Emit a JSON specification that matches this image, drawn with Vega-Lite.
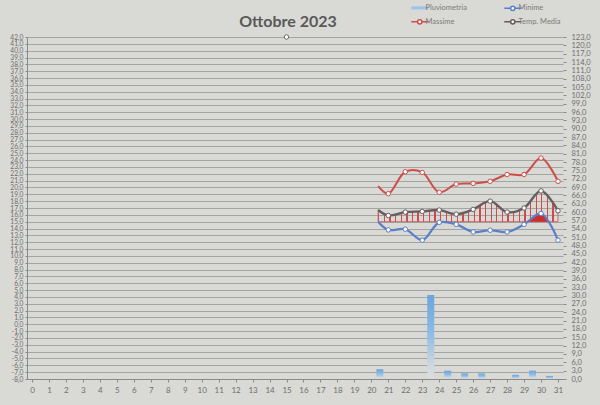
{
  "$schema": "https://vega.github.io/schema/vega-lite/v6.json",
  "width": 536,
  "height": 342,
  "autosize": {"type": "none"},
  "padding": {"left": 27, "top": 37, "right": 37, "bottom": 26},
  "background": "#d9d9d5",
  "config": {"view": {"stroke": null}, "font": "Lato"},
  "title": {"text": "Ottobre 2023", "fontSize": 16, "fontWeight": "bold", "color": "#595959", "font": "Lato", "offset": 8, "anchor": "middle", "dx": -7, "dy": 34},
  "datasets": {
    "rain": [
      {"day": 20.5, "rain": 3.5},
      {"day": 23.5, "rain": 30.2},
      {"day": 24.5, "rain": 3.0},
      {"day": 25.5, "rain": 2.0},
      {"day": 26.5, "rain": 2.0},
      {"day": 28.5, "rain": 1.5},
      {"day": 29.5, "rain": 3.0},
      {"day": 30.5, "rain": 1.1}
    ],
    "temp": [
      {"day": 20.4, "serie": "Massime", "value": 20.2},
      {"day": 21, "serie": "Massime", "value": 19.1},
      {"day": 22, "serie": "Massime", "value": 22.3},
      {"day": 23, "serie": "Massime", "value": 22.2},
      {"day": 24, "serie": "Massime", "value": 19.3},
      {"day": 25, "serie": "Massime", "value": 20.5},
      {"day": 26, "serie": "Massime", "value": 20.6},
      {"day": 27, "serie": "Massime", "value": 20.9},
      {"day": 28, "serie": "Massime", "value": 21.9},
      {"day": 29, "serie": "Massime", "value": 21.9},
      {"day": 30, "serie": "Massime", "value": 24.3},
      {"day": 31, "serie": "Massime", "value": 20.9},
      {"day": 20.4, "serie": "Minime", "value": 15.0},
      {"day": 21, "serie": "Minime", "value": 13.8},
      {"day": 22, "serie": "Minime", "value": 13.9},
      {"day": 23, "serie": "Minime", "value": 12.3},
      {"day": 24, "serie": "Minime", "value": 14.9},
      {"day": 25, "serie": "Minime", "value": 14.6},
      {"day": 26, "serie": "Minime", "value": 13.5},
      {"day": 27, "serie": "Minime", "value": 13.75},
      {"day": 28, "serie": "Minime", "value": 13.5},
      {"day": 29, "serie": "Minime", "value": 14.6},
      {"day": 30, "serie": "Minime", "value": 16.2},
      {"day": 31, "serie": "Minime", "value": 12.3},
      {"day": 20.4, "serie": "Temp. Media", "value": 16.7},
      {"day": 21, "serie": "Temp. Media", "value": 15.9},
      {"day": 22, "serie": "Temp. Media", "value": 16.4},
      {"day": 23, "serie": "Temp. Media", "value": 16.5},
      {"day": 24, "serie": "Temp. Media", "value": 16.7},
      {"day": 25, "serie": "Temp. Media", "value": 16.1},
      {"day": 26, "serie": "Temp. Media", "value": 16.8},
      {"day": 27, "serie": "Temp. Media", "value": 18.0},
      {"day": 28, "serie": "Temp. Media", "value": 16.4},
      {"day": 29, "serie": "Temp. Media", "value": 17.0},
      {"day": 30, "serie": "Temp. Media", "value": 19.5},
      {"day": 31, "serie": "Temp. Media", "value": 16.6}
    ],
    "extra": [{"day": 15, "value": 42}],
    "patch": [
      {"day": 29.3, "value": 15.0},
      {"day": 30, "value": 16.1},
      {"day": 30.45, "value": 15.0}
    ]
  },
  "encoding": {
    "x": {
      "field": "day",
      "type": "quantitative",
      "scale": {"domain": [0, 31], "nice": false, "zero": false},
      "axis": {
        "title": null,
        "values": [0,1,2,3,4,5,6,7,8,9,10,11,12,13,14,15,16,17,18,19,20,21,22,23,24,25,26,27,28,29,30,31],
        "labelFontSize": 8,
        "labelColor": "#6e6e6e",
        "labelFlush": false,
        "labelOverlap": false,
        "tickColor": "#8a8a8a",
        "tickSize": 3,
        "domainColor": "#8a8a8a",
        "grid": false,
        "labelPadding": 4
      }
    }
  },
  "layer": [
    {
      "data": {"name": "rain"},
      "mark": {
        "type": "bar",
        "width": 7,
        "fill": {
          "gradient": "linear", "x1": 0, "y1": 0, "x2": 0, "y2": 1,
          "stops": [
            {"offset": 0, "color": "#6aa5dc"},
            {"offset": 0.45, "color": "#8cbbe6"},
            {"offset": 0.85, "color": "#d0d8e0"},
            {"offset": 1, "color": "#dcdcdc"}
          ]
        }
      },
      "encoding": {
        "y": {
          "field": "rain",
          "type": "quantitative",
          "scale": {"domain": [0, 123], "nice": false},
          "axis": {
            "orient": "right",
            "title": null,
            "values": [0,3,6,9,12,15,18,21,24,27,30,33,36,39,42,45,48,51,54,57,60,63,66,69,72,75,78,81,84,87,90,93,96,99,102,105,108,111,114,117,120,123],
            "labelExpr": "datum.value + ',0'",
            "labelFontSize": 7.5,
            "labelColor": "#6e6e6e",
            "labelFlush": false,
            "labelOverlap": false,
            "grid": false,
            "tickSize": 3,
            "tickColor": "#8a8a8a",
            "domain": false,
            "labelPadding": 5
          }
        }
      }
    },
    {
      "encoding": {
        "y": {
          "field": "value",
          "type": "quantitative",
          "scale": {"domain": [-8, 42], "nice": false, "zero": false},
          "axis": {
            "orient": "left",
            "title": null,
            "values": [-8,-7,-6,-5,-4,-3,-2,-1,0,1,2,3,4,5,6,7,8,9,10,11,12,13,14,15,16,17,18,19,20,21,22,23,24,25,26,27,28,29,30,31,32,33,34,35,36,37,38,39,40,41,42],
            "labelExpr": "datum.value + ',0'",
            "labelFontSize": 6.7,
            "labelColor": "#6e6e6e",
            "labelFlush": false,
            "labelOverlap": false,
            "grid": true,
            "gridColor": "#979797",
            "gridWidth": 0.8,
            "tickSize": 2,
            "tickColor": "#8a8a8a",
            "domainColor": "#8a8a8a",
            "labelPadding": 2
          }
        }
      },
      "layer": [
        {
          "data": {"name": "temp"},
          "transform": [{"filter": "datum.serie === 'Temp. Media'"}],
          "mark": {
            "type": "area",
            "interpolate": "catmull-rom",
            "stroke": "#c85050",
            "strokeWidth": 0.8,
            "fill": {
              "gradient": "linear", "x1": 0, "y1": 0, "x2": 1, "y2": 0,
              "stops": [
                {"offset": 0, "color": "#d04a4a"}, {"offset": 0.007, "color": "#d04a4a"}, {"offset": 0.007, "color": "rgba(208,74,74,0)"}, {"offset": 0.03125, "color": "rgba(208,74,74,0)"},
                {"offset": 0.03125, "color": "#d04a4a"}, {"offset": 0.03825, "color": "#d04a4a"}, {"offset": 0.03825, "color": "rgba(208,74,74,0)"}, {"offset": 0.0625, "color": "rgba(208,74,74,0)"},
                {"offset": 0.0625, "color": "#d04a4a"}, {"offset": 0.0695, "color": "#d04a4a"}, {"offset": 0.0695, "color": "rgba(208,74,74,0)"}, {"offset": 0.09375, "color": "rgba(208,74,74,0)"},
                {"offset": 0.09375, "color": "#d04a4a"}, {"offset": 0.10075, "color": "#d04a4a"}, {"offset": 0.10075, "color": "rgba(208,74,74,0)"}, {"offset": 0.125, "color": "rgba(208,74,74,0)"},
                {"offset": 0.125, "color": "#d04a4a"}, {"offset": 0.132, "color": "#d04a4a"}, {"offset": 0.132, "color": "rgba(208,74,74,0)"}, {"offset": 0.15625, "color": "rgba(208,74,74,0)"},
                {"offset": 0.15625, "color": "#d04a4a"}, {"offset": 0.16325, "color": "#d04a4a"}, {"offset": 0.16325, "color": "rgba(208,74,74,0)"}, {"offset": 0.1875, "color": "rgba(208,74,74,0)"},
                {"offset": 0.1875, "color": "#d04a4a"}, {"offset": 0.1945, "color": "#d04a4a"}, {"offset": 0.1945, "color": "rgba(208,74,74,0)"}, {"offset": 0.21875, "color": "rgba(208,74,74,0)"},
                {"offset": 0.21875, "color": "#d04a4a"}, {"offset": 0.22575, "color": "#d04a4a"}, {"offset": 0.22575, "color": "rgba(208,74,74,0)"}, {"offset": 0.25, "color": "rgba(208,74,74,0)"},
                {"offset": 0.25, "color": "#d04a4a"}, {"offset": 0.257, "color": "#d04a4a"}, {"offset": 0.257, "color": "rgba(208,74,74,0)"}, {"offset": 0.28125, "color": "rgba(208,74,74,0)"},
                {"offset": 0.28125, "color": "#d04a4a"}, {"offset": 0.28825, "color": "#d04a4a"}, {"offset": 0.28825, "color": "rgba(208,74,74,0)"}, {"offset": 0.3125, "color": "rgba(208,74,74,0)"},
                {"offset": 0.3125, "color": "#d04a4a"}, {"offset": 0.3195, "color": "#d04a4a"}, {"offset": 0.3195, "color": "rgba(208,74,74,0)"}, {"offset": 0.34375, "color": "rgba(208,74,74,0)"},
                {"offset": 0.34375, "color": "#d04a4a"}, {"offset": 0.35075, "color": "#d04a4a"}, {"offset": 0.35075, "color": "rgba(208,74,74,0)"}, {"offset": 0.375, "color": "rgba(208,74,74,0)"},
                {"offset": 0.375, "color": "#d04a4a"}, {"offset": 0.382, "color": "#d04a4a"}, {"offset": 0.382, "color": "rgba(208,74,74,0)"}, {"offset": 0.40625, "color": "rgba(208,74,74,0)"},
                {"offset": 0.40625, "color": "#d04a4a"}, {"offset": 0.41325, "color": "#d04a4a"}, {"offset": 0.41325, "color": "rgba(208,74,74,0)"}, {"offset": 0.4375, "color": "rgba(208,74,74,0)"},
                {"offset": 0.4375, "color": "#d04a4a"}, {"offset": 0.4445, "color": "#d04a4a"}, {"offset": 0.4445, "color": "rgba(208,74,74,0)"}, {"offset": 0.46875, "color": "rgba(208,74,74,0)"},
                {"offset": 0.46875, "color": "#d04a4a"}, {"offset": 0.47575, "color": "#d04a4a"}, {"offset": 0.47575, "color": "rgba(208,74,74,0)"}, {"offset": 0.5, "color": "rgba(208,74,74,0)"},
                {"offset": 0.5, "color": "#d04a4a"}, {"offset": 0.507, "color": "#d04a4a"}, {"offset": 0.507, "color": "rgba(208,74,74,0)"}, {"offset": 0.53125, "color": "rgba(208,74,74,0)"},
                {"offset": 0.53125, "color": "#d04a4a"}, {"offset": 0.53825, "color": "#d04a4a"}, {"offset": 0.53825, "color": "rgba(208,74,74,0)"}, {"offset": 0.5625, "color": "rgba(208,74,74,0)"},
                {"offset": 0.5625, "color": "#d04a4a"}, {"offset": 0.5695, "color": "#d04a4a"}, {"offset": 0.5695, "color": "rgba(208,74,74,0)"}, {"offset": 0.59375, "color": "rgba(208,74,74,0)"},
                {"offset": 0.59375, "color": "#d04a4a"}, {"offset": 0.60075, "color": "#d04a4a"}, {"offset": 0.60075, "color": "rgba(208,74,74,0)"}, {"offset": 0.625, "color": "rgba(208,74,74,0)"},
                {"offset": 0.625, "color": "#d04a4a"}, {"offset": 0.632, "color": "#d04a4a"}, {"offset": 0.632, "color": "rgba(208,74,74,0)"}, {"offset": 0.65625, "color": "rgba(208,74,74,0)"},
                {"offset": 0.65625, "color": "#d04a4a"}, {"offset": 0.66325, "color": "#d04a4a"}, {"offset": 0.66325, "color": "rgba(208,74,74,0)"}, {"offset": 0.6875, "color": "rgba(208,74,74,0)"},
                {"offset": 0.6875, "color": "#d04a4a"}, {"offset": 0.6945, "color": "#d04a4a"}, {"offset": 0.6945, "color": "rgba(208,74,74,0)"}, {"offset": 0.71875, "color": "rgba(208,74,74,0)"},
                {"offset": 0.71875, "color": "#d04a4a"}, {"offset": 0.72575, "color": "#d04a4a"}, {"offset": 0.72575, "color": "rgba(208,74,74,0)"}, {"offset": 0.75, "color": "rgba(208,74,74,0)"},
                {"offset": 0.75, "color": "#d04a4a"}, {"offset": 0.757, "color": "#d04a4a"}, {"offset": 0.757, "color": "rgba(208,74,74,0)"}, {"offset": 0.78125, "color": "rgba(208,74,74,0)"},
                {"offset": 0.78125, "color": "#d04a4a"}, {"offset": 0.78825, "color": "#d04a4a"}, {"offset": 0.78825, "color": "rgba(208,74,74,0)"}, {"offset": 0.8125, "color": "rgba(208,74,74,0)"},
                {"offset": 0.8125, "color": "#d04a4a"}, {"offset": 0.8195, "color": "#d04a4a"}, {"offset": 0.8195, "color": "rgba(208,74,74,0)"}, {"offset": 0.84375, "color": "rgba(208,74,74,0)"},
                {"offset": 0.84375, "color": "#d04a4a"}, {"offset": 0.85075, "color": "#d04a4a"}, {"offset": 0.85075, "color": "rgba(208,74,74,0)"}, {"offset": 0.875, "color": "rgba(208,74,74,0)"},
                {"offset": 0.875, "color": "#d04a4a"}, {"offset": 0.882, "color": "#d04a4a"}, {"offset": 0.882, "color": "rgba(208,74,74,0)"}, {"offset": 0.90625, "color": "rgba(208,74,74,0)"},
                {"offset": 0.90625, "color": "#d04a4a"}, {"offset": 0.91325, "color": "#d04a4a"}, {"offset": 0.91325, "color": "rgba(208,74,74,0)"}, {"offset": 0.9375, "color": "rgba(208,74,74,0)"},
                {"offset": 0.9375, "color": "#d04a4a"}, {"offset": 0.9445, "color": "#d04a4a"}, {"offset": 0.9445, "color": "rgba(208,74,74,0)"}, {"offset": 0.96875, "color": "rgba(208,74,74,0)"},
                {"offset": 0.96875, "color": "#d04a4a"}, {"offset": 0.97575, "color": "#d04a4a"}, {"offset": 0.97575, "color": "rgba(208,74,74,0)"}, {"offset": 1, "color": "rgba(208,74,74,0)"}
              ]
            }
          },
          "encoding": {
            "y2": {"datum": 15}
          }
        },
        {
          "data": {"name": "patch"},
          "mark": {"type": "area", "interpolate": "monotone", "fill": "#c8302c"},
          "encoding": {"y2": {"datum": 15}}
        },
        {
          "data": {"name": "temp"},
          "mark": {"type": "line", "interpolate": "catmull-rom"},
          "encoding": {
            "color": {
              "field": "serie",
              "type": "nominal",
              "scale": {
                "domain": ["Pluviometria", "Massime", "Minime", "Temp. Media"],
                "range": ["#9dc3e6", "#cc4f4a", "#5a7fc8", "#665e5e"]
              },
              "legend": {
                "orient": "none",
                "legendX": 389,
                "legendY": -33,
                "columns": 2,
                "columnPadding": 34,
                "rowPadding": 2,
                "padding": 0,
                "title": null,
                "labelFontSize": 7.5,
                "labelColor": "#7a7a7a",
                "labelOffset": 2,
                "symbolSize": 289,
                "symbolStrokeWidth": 1.5,
                "symbolType": "M-1,0H-0.25M0.25,0H1M-0.25,0A0.25,0.25 0 1 1 0.25,0A0.25,0.25 0 1 1 -0.25,0",
                "encode": {
                  "symbols": {
                    "update": {
                      "shape": {"signal": "datum.value === 'Pluviometria' ? 'M-1,0H1' : 'M-1,0H-0.25M0.25,0H1M-0.25,0A0.25,0.25 0 1 1 0.25,0A0.25,0.25 0 1 1 -0.25,0'"},
                      "strokeWidth": {"signal": "datum.value === 'Pluviometria' ? 3 : 1.5"},
                      "fill": {"value": "white"}
                    }
                  }
                }
              }
            },
            "strokeWidth": {
              "field": "serie",
              "type": "nominal",
              "scale": {"domain": ["Massime", "Minime", "Temp. Media"], "range": [2, 2.4, 1]},
              "legend": null
            }
          }
        },
        {
          "data": {"name": "temp"},
          "transform": [{"filter": "datum.day >= 21"}],
          "mark": {"type": "point", "shape": "circle", "size": 20, "filled": false, "fill": "white", "strokeWidth": 1, "opacity": 1},
          "encoding": {
            "color": {
              "field": "serie",
              "type": "nominal",
              "scale": {
                "domain": ["Pluviometria", "Massime", "Minime", "Temp. Media"],
                "range": ["#9dc3e6", "#cc4f4a", "#5a7fc8", "#665e5e"]
              }
            }
          }
        },
        {
          "data": {"name": "extra"},
          "mark": {"type": "point", "shape": "circle", "size": 20, "filled": false, "fill": "white", "stroke": "#6a6a6a", "strokeWidth": 1, "opacity": 1}
        }
      ]
    }
  ],
  "resolve": {"scale": {"y": "independent"}}
}
